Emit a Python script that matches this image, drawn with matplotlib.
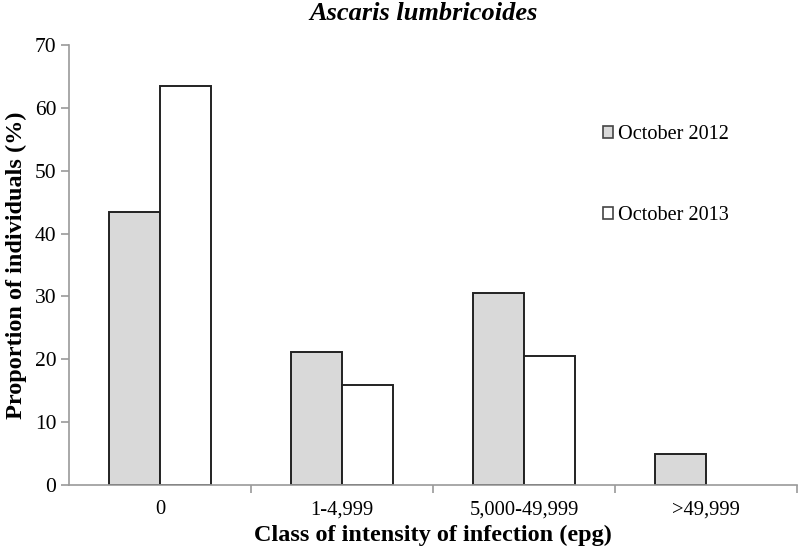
import numpy as np
import matplotlib.pyplot as plt
from matplotlib.patches import Patch
from matplotlib.ticker import FixedLocator

# Data
categories = ['0', '1-4,999', '5,000-49,999', '>49,999']
oct_2012 = [43.4, 21.1, 30.5, 4.9]
oct_2013 = [63.4, 15.9, 20.6, 0.0]
series_labels = ['October 2012', 'October 2013']

plt.rcParams['font.family'] = ['Liberation Serif', 'DejaVu Serif']

fig = plt.figure(figsize=(8, 5.51), dpi=100)
ax = fig.add_axes([69 / 800, 66 / 551, 728 / 800, 440 / 551])

x = np.arange(len(categories))
w = 0.28
ax.bar(x - w / 2, oct_2012, w, color='#d9d9d9', edgecolor='#222222', linewidth=1.4)
bars13 = ax.bar(x + w / 2, oct_2013, w, color='white', edgecolor='#222222', linewidth=1.4)
# no visible bar where the value is zero
for b, v in zip(bars13, oct_2013):
    if v == 0:
        b.set_visible(False)

ax.set_xlim(-0.5, len(categories) - 0.5)
ax.set_ylim(0, 70)
ax.set_yticks(np.arange(0, 71, 10))
ax.set_xticks(x)
ax.set_xticklabels(categories)
ax.xaxis.set_minor_locator(FixedLocator(np.arange(0.5, len(categories), 1.0)))

for side in ['top', 'right']:
    ax.spines[side].set_visible(False)
for side in ['left', 'bottom']:
    ax.spines[side].set_color('#9a9a9a')
    ax.spines[side].set_linewidth(1.2)

ax.tick_params(axis='x', which='major', length=0, pad=11, labelsize=14.8)
ax.tick_params(axis='x', which='minor', length=6, color='#9a9a9a', width=1.2)
ax.tick_params(axis='y', length=6, color='#9a9a9a', width=1.2, labelsize=15.5, pad=3)

ax.set_xlabel('Class of intensity of infection (epg)', fontsize=17.5, fontweight='bold', labelpad=4)
ax.set_ylabel('Proportion of individuals (%)', fontsize=17.5, fontweight='bold', labelpad=6)
fig.text(423.5 / 800, 1 - 13 / 551, 'Ascaris lumbricoides', ha='center', va='center',
         fontsize=19, fontweight='bold', fontstyle='italic')

handles = [Patch(facecolor='#d9d9d9', edgecolor='#444444', linewidth=1.2),
           Patch(facecolor='white', edgecolor='#444444', linewidth=1.2)]
ax.legend(handles, series_labels, loc='upper left', bbox_to_anchor=(0.708, 0.859),
          frameon=False, fontsize=14.6, handlelength=0.5, handleheight=0.5,
          handletextpad=0.25, labelspacing=3.05)

fig.savefig('out.png', dpi=100)
